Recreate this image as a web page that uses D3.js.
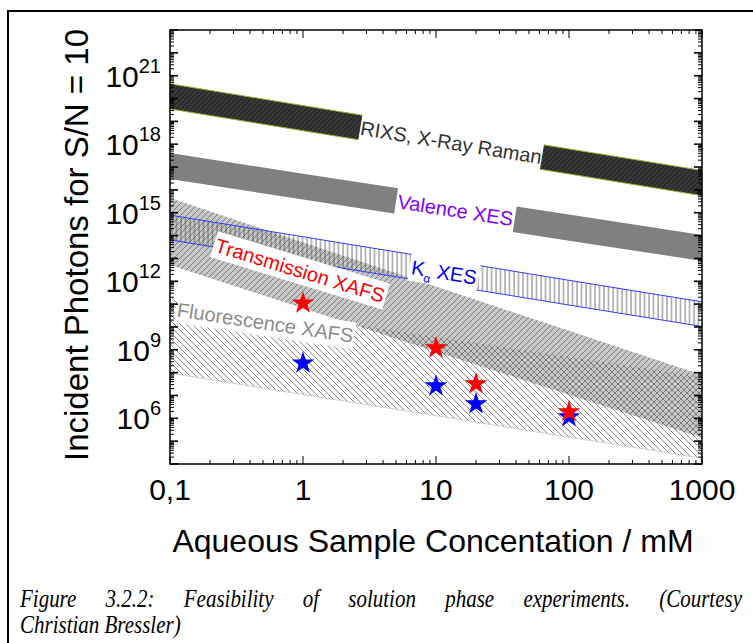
<!DOCTYPE html>
<html><head><meta charset="utf-8">
<script src="https://cdn.jsdelivr.net/npm/d3@7"></script>
<style>body{margin:0;background:#fff} svg{display:block}</style>
</head><body><svg id="c" width="753" height="643"></svg>
<script>
// ---------- data ----------
const concentrations = [0.1, 1, 10, 100, 1000];
const rixsUpper = [4.4e20, 4.9e19, 5.5e18, 6.2e17, 7.1e16];
const rixsLower = [3.5e19, 3.9e18, 4.4e17, 5.0e16, 5.6e15];
const valenceUpper = [4.1e17, 5.1e16, 6.6e15, 8.3e14, 1.05e14];
const valenceLower = [3.0e16, 3.8e15, 4.8e14, 6.0e13, 7.8e12];
const kalphaUpper = [7.9e14, 8.9e13, 1.0e13, 1.1e12, 1.26e11];
const kalphaLower = [6.5e13, 7.2e12, 8.1e11, 9.1e10, 1.05e10];
const transUpper = [4.4e15, 5.0e13, 5.9e11, 6.8e9, 7.8e7];
const transLower = [5.1e12, 6.6e10, 8.3e8, 1.07e7, 1.4e5];
const fluorUpper = [2.0e11, 2.7e10, 3.6e9, 4.8e8, 6.5e7];
const fluorLower = [9.5e7, 1.1e7, 1.3e6, 1.5e5, 1.8e4];

const starConc = [1, 10, 20, 100];
const transmissionStars = [1.1e11, 1.2e9, 3.2e7, 1.9e6];
const fluorescenceStars = [2.6e8, 2.6e7, 4.3e6, 1.15e6];

const xTickValues = [0.1, 1, 10, 100, 1000];
const xTickLabels = ["0,1", "1", "10", "100", "1000"];
const yTickExponents = [6, 9, 12, 15, 18, 21];

const xTitle = "Aqueous Sample Concentation / mM";
const yTitle = "Incident Photons for S/N = 10";
const captionLine1 = "Figure 3.2.2: Feasibility of solution phase experiments. (Courtesy";
const captionLine2 = "Christian Bressler)";

// ---------- layout ----------
const L = 170, R = 702, T = 30, B = 464;
const x = d3.scaleLog().domain([0.1, 1000]).range([L, R]);
const y = d3.scaleLog().domain([1e4, 1e23]).range([B, T]);
const svg = d3.select("#c");
const sans = "'Liberation Sans', Arial, sans-serif";

// outer frame
svg.append("rect").attr("x", 8).attr("y", 11).attr("width", 900).attr("height", 900)
  .attr("fill", "none").attr("stroke", "#000").attr("stroke-width", 2);

// patterns
const defs = svg.append("defs");
function hatch(id, size, bg, color, d, w) {
  const p = defs.append("pattern").attr("id", id).attr("patternUnits", "userSpaceOnUse")
    .attr("width", size).attr("height", size);
  if (bg) p.append("rect").attr("width", size).attr("height", size).attr("fill", bg);
  p.append("path").attr("d", d).attr("stroke", color).attr("stroke-width", w).attr("fill", "none");
}
hatch("pRixs", 5, "#383838", "#1c1c1c", "M0,5 L5,0 M-1,1 L1,-1 M4,6 L6,4", 1);
hatch("pTrans", 6, null, "#5a5a5a", "M0,6 L6,0 M-1,1 L1,-1 M5,7 L7,5", 0.7);
hatch("pFluor", 6, null, "#5a5a5a", "M0,0 L6,6 M-1,5 L1,7 M5,-1 L7,1", 0.7);
hatch("pKa", 4.5, null, "#555", "M1,0 L1,4.5", 0.8);

defs.append("clipPath").attr("id", "plotClip").append("rect")
  .attr("x", L).attr("y", T).attr("width", R - L).attr("height", B - T);

const g = svg.append("g").attr("clip-path", "url(#plotClip)");
function band(upper, lower) {
  return d3.area().x((d, i) => x(concentrations[i])).y0((d, i) => y(lower[i])).y1((d, i) => y(upper[i]))(concentrations);
}
function edge(vals) {
  return d3.line().x((d, i) => x(concentrations[i])).y((d, i) => y(vals[i]))(concentrations);
}

// Transmission XAFS
g.append("path").attr("d", band(transUpper, transLower)).attr("fill", "#c6c6c6");
g.append("path").attr("d", band(transUpper, transLower)).attr("fill", "url(#pTrans)");
// K alpha XES
g.append("path").attr("d", band(kalphaUpper, kalphaLower)).attr("fill", "url(#pKa)");
g.append("path").attr("d", edge(kalphaUpper)).attr("stroke", "#3a3aff").attr("fill", "none").attr("stroke-width", 1);
g.append("path").attr("d", edge(kalphaLower)).attr("stroke", "#3a3aff").attr("fill", "none").attr("stroke-width", 1);
// Fluorescence XAFS
g.append("path").attr("d", band(fluorUpper, fluorLower)).attr("fill", "url(#pFluor)");
g.append("path").attr("d", edge(fluorLower)).attr("stroke", "#cfcfcf").attr("fill", "none").attr("stroke-width", 1);
// Valence XES
g.append("path").attr("d", band(valenceUpper, valenceLower)).attr("fill", "#808080");
// RIXS
g.append("path").attr("d", band(rixsUpper, rixsLower)).attr("fill", "url(#pRixs)");
g.append("path").attr("d", edge(rixsUpper)).attr("stroke", "#a8a830").attr("fill", "none").attr("stroke-width", 1);
g.append("path").attr("d", edge(rixsLower)).attr("stroke", "#a8a830").attr("fill", "none").attr("stroke-width", 1);

// band helpers for labels
function interpLog(vals, c) {
  const lc = Math.log10(c);
  for (let i = 0; i < concentrations.length - 1; i++) {
    const a = Math.log10(concentrations[i]), b = Math.log10(concentrations[i + 1]);
    if (lc >= a && lc <= b) {
      const t = (lc - a) / (b - a);
      return Math.pow(10, Math.log10(vals[i]) * (1 - t) + Math.log10(vals[i + 1]) * t);
    }
  }
  return vals[vals.length - 1];
}
function bandMid(upper, lower, c) {
  return (y(interpLog(upper, c)) + y(interpLog(lower, c))) / 2;
}
function bandAngle(vals) {
  const dy = y(vals[4]) - y(vals[0]), dx = x(concentrations[4]) - x(concentrations[0]);
  return Math.atan2(dy, dx) * 180 / Math.PI;
}

function label(parts, cx, cy, angle, color, bw, bh) {
  const lg = g.append("g").attr("transform", `translate(${cx},${cy}) rotate(${angle})`);
  lg.append("rect").attr("x", -bw / 2).attr("y", -bh / 2).attr("width", bw).attr("height", bh).attr("fill", "#fff");
  const t = lg.append("text").attr("text-anchor", "middle").attr("dy", "0.36em")
    .attr("font-family", sans).attr("font-size", 20).attr("fill", color);
  parts.forEach(p => {
    const s = t.append("tspan").text(p.t);
    if (p.sub) s.attr("font-size", 12).attr("dy", 6);
    if (p.after) s.attr("dy", -6);
  });
}
label([{t: "RIXS, X-Ray Raman"}], x(13), bandMid(rixsUpper, rixsLower, 13), bandAngle(rixsUpper), "#333", 184, 30);
label([{t: "Valence XES"}], x(14), bandMid(valenceUpper, valenceLower, 14), bandAngle(valenceUpper), "#8000ff", 120, 30);
label([{t: "K"}, {t: "α", sub: true}, {t: " XES", after: true}], x(11.5), bandMid(kalphaUpper, kalphaLower, 11.5), bandAngle(kalphaUpper), "#0000ff", 70, 28);
label([{t: "Transmission XAFS"}], x(0.95), bandMid(transUpper, transLower, 0.95) - 4, 17, "#ff0000", 180, 27);
label([{t: "Fluorescence XAFS"}], x(0.52), y(interpLog(fluorUpper, 0.52)) + 11, bandAngle(fluorUpper), "#8c8c8c", 180, 27);

// stars
const star = d3.symbol().type(d3.symbolStar).size(160);
g.selectAll(".bs").data(starConc).join("path").attr("class", "bs")
  .attr("d", star).attr("fill", "#0000ff")
  .attr("transform", (d, i) => `translate(${x(d)},${y(fluorescenceStars[i])})`);
g.selectAll(".rs").data(starConc).join("path").attr("class", "rs")
  .attr("d", star).attr("fill", "#ff0000")
  .attr("transform", (d, i) => `translate(${x(d)},${y(transmissionStars[i])})`);

// axes ticks (inward, mirrored)
const ax = svg.append("g").attr("stroke", "#000").attr("stroke-width", 1);
const xMinor = [], yMinor = [];
for (let e = -1; e < 3; e++) for (let m = 2; m <= 9; m++) xMinor.push(m * Math.pow(10, e));
const xMajor = [0.1, 1, 10, 100, 1000];
const yMajor = [];
for (let e = 4; e <= 23; e++) yMajor.push(Math.pow(10, e));
for (let e = 4; e < 23; e++) for (let m = 2; m <= 9; m++) yMinor.push(m * Math.pow(10, e));
xMajor.forEach(v => { const px = x(v);
  ax.append("line").attr("x1", px).attr("x2", px).attr("y1", B).attr("y2", B - 8);
  ax.append("line").attr("x1", px).attr("x2", px).attr("y1", T).attr("y2", T + 8); });
xMinor.forEach(v => { const px = x(v);
  ax.append("line").attr("x1", px).attr("x2", px).attr("y1", B).attr("y2", B - 4);
  ax.append("line").attr("x1", px).attr("x2", px).attr("y1", T).attr("y2", T + 4); });
yMajor.forEach(v => { const py = y(v);
  ax.append("line").attr("x1", L).attr("x2", L + 8).attr("y1", py).attr("y2", py).attr("stroke-width", 1.6);
  ax.append("line").attr("x1", R).attr("x2", R - 8).attr("y1", py).attr("y2", py).attr("stroke-width", 1.6); });
yMinor.forEach(v => { const py = y(v);
  ax.append("line").attr("x1", L).attr("x2", L + 4).attr("y1", py).attr("y2", py);
  ax.append("line").attr("x1", R).attr("x2", R - 4).attr("y1", py).attr("y2", py); });
svg.append("rect").attr("x", L).attr("y", T).attr("width", R - L).attr("height", B - T)
  .attr("fill", "none").attr("stroke", "#000").attr("stroke-width", 1.5);

// tick labels
svg.selectAll(".xl").data(xTickValues).join("text").attr("class", "xl")
  .attr("x", d => x(d)).attr("y", 500).attr("text-anchor", "middle")
  .attr("font-family", sans).attr("font-size", 30).attr("fill", "#000")
  .text((d, i) => xTickLabels[i]);
yTickExponents.forEach(e => {
  const t = svg.append("text").attr("x", 161).attr("y", y(Math.pow(10, e)) + 11)
    .attr("text-anchor", "end").attr("font-family", sans).attr("fill", "#000");
  t.append("tspan").attr("font-size", 30).text("10");
  t.append("tspan").attr("font-size", 20).attr("dy", -14).text(String(e));
});

// axis titles
svg.append("text").attr("x", 433).attr("y", 552).attr("text-anchor", "middle")
  .attr("font-family", sans).attr("font-size", 32).attr("fill", "#000").text(xTitle);
svg.append("text").attr("transform", "translate(88,245) rotate(-90)").attr("text-anchor", "middle")
  .attr("font-family", sans).attr("font-size", 33).attr("fill", "#000").text(yTitle);

// caption (justified first line), slightly tall serif italic
const serif = "'Liberation Serif', 'Times New Roman', serif";
const cap = svg.append("g").attr("transform", "translate(0,607) scale(1,1.15)");
const c1 = cap.append("text").attr("y", 0).attr("font-family", serif).attr("font-style", "italic")
  .attr("font-size", 21).attr("fill", "#000");
const words = captionLine1.split(" ");
const spans = words.map(w => c1.append("tspan").text(w));
const widths = spans.map(s => s.node().getComputedTextLength());
const total = d3.sum(widths);
const gap = (742 - 20 - total) / (words.length - 1);
let cx = 20;
spans.forEach((s, i) => { s.attr("x", cx); cx += widths[i] + gap; });
cap.append("text").attr("x", 20).attr("y", 23).attr("font-family", serif).attr("font-style", "italic")
  .attr("font-size", 21).attr("fill", "#000").text(captionLine2);
</script></body></html>
